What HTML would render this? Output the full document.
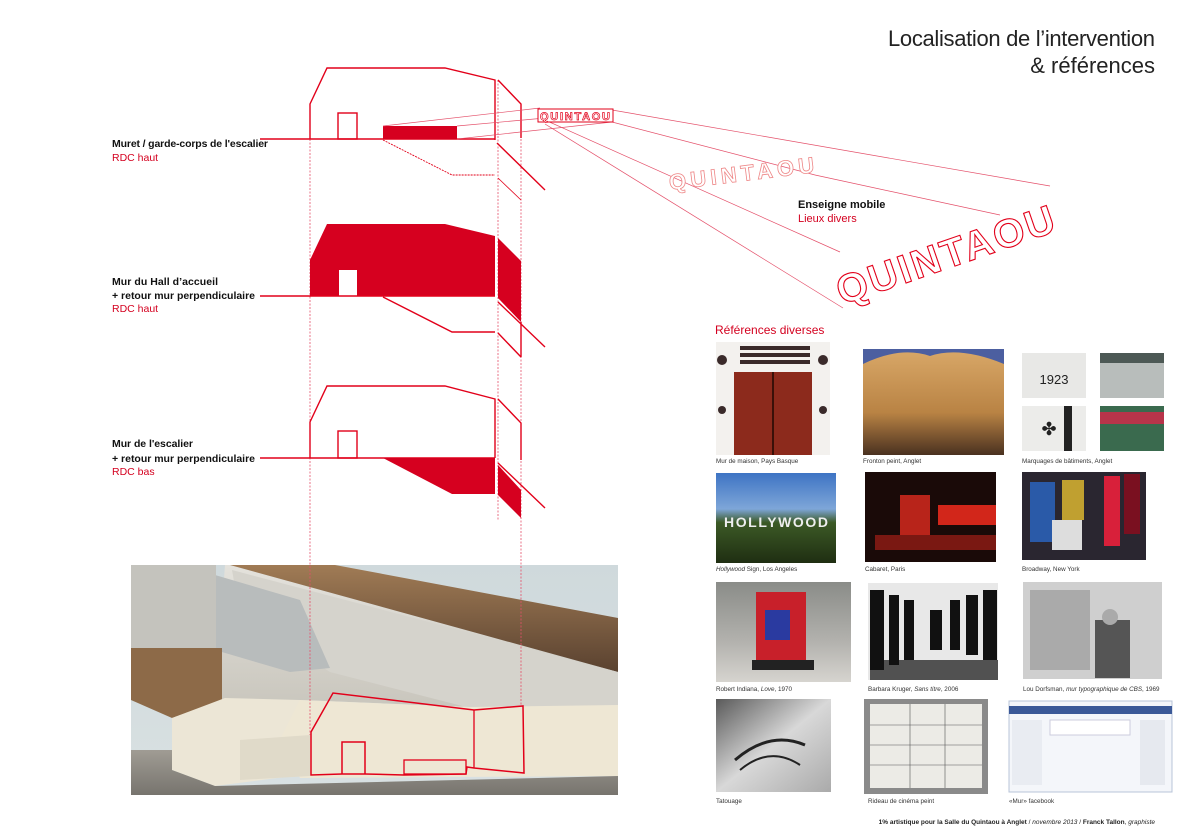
<!DOCTYPE html>
<html><head><meta charset="utf-8"><style>
html,body{margin:0;padding:0;background:#fff;}
svg{display:block;}
text{font-family:"Liberation Sans",sans-serif;}
</style></head><body>
<svg width="1200" height="840" viewBox="0 0 1200 840" xmlns="http://www.w3.org/2000/svg">
<defs>
<linearGradient id="sky" x1="0" y1="0" x2="0" y2="1"><stop offset="0" stop-color="#cfd9dc"/><stop offset="1" stop-color="#d9e1e2"/></linearGradient>
<linearGradient id="wood" x1="0" y1="0" x2="0" y2="1"><stop offset="0" stop-color="#a07b55"/><stop offset="1" stop-color="#5a4230"/></linearGradient>
<linearGradient id="floor" x1="0" y1="0" x2="0" y2="1"><stop offset="0" stop-color="#a09c94"/><stop offset="1" stop-color="#77746e"/></linearGradient>
<linearGradient id="slab" x1="0" y1="0" x2="0" y2="1"><stop offset="0" stop-color="#e4e2dc"/><stop offset="1" stop-color="#c9c6bd"/></linearGradient>
<linearGradient id="fronton" x1="0" y1="0" x2="0" y2="1"><stop offset="0" stop-color="#d9a868"/><stop offset="0.6" stop-color="#b98344"/><stop offset="1" stop-color="#4a3120"/></linearGradient>
<linearGradient id="holly" x1="0" y1="0" x2="0" y2="1"><stop offset="0" stop-color="#3e74c4"/><stop offset="0.4" stop-color="#7ea6d8"/><stop offset="0.55" stop-color="#3c5a26"/><stop offset="1" stop-color="#1f2e12"/></linearGradient>
<linearGradient id="love" x1="0" y1="0" x2="0" y2="1"><stop offset="0" stop-color="#8a8c88"/><stop offset="0.6" stop-color="#b3b2ae"/><stop offset="1" stop-color="#d6d4cf"/></linearGradient>
<linearGradient id="tat" x1="0" y1="0" x2="1" y2="1"><stop offset="0" stop-color="#5a5a5a"/><stop offset="0.5" stop-color="#d8d8d8"/><stop offset="1" stop-color="#aaa"/></linearGradient>
</defs>

<text x="1155" y="46" font-size="22" text-anchor="end" fill="#222" textLength="267">Localisation de l’intervention</text>
<text x="1155" y="73" font-size="22" text-anchor="end" fill="#222">&amp; références</text>

<g font-size="10.5">
<text x="112" y="147" font-weight="bold" fill="#111" textLength="156">Muret / garde-corps de l'escalier</text>
<text x="112" y="161" fill="#d4001f">RDC haut</text>
<text x="112" y="285" font-weight="bold" fill="#111" textLength="106">Mur du Hall d’accueil</text>
<text x="112" y="299" font-weight="bold" fill="#111" textLength="143">+ retour mur perpendiculaire</text>
<text x="112" y="312" fill="#d4001f">RDC haut</text>
<text x="112" y="447" font-weight="bold" fill="#111" textLength="81">Mur de l'escalier</text>
<text x="112" y="462" font-weight="bold" fill="#111" textLength="143">+ retour mur perpendiculaire</text>
<text x="112" y="475" fill="#d4001f">RDC bas</text>
</g>

<!-- Photo -->
<g>
<rect x="131" y="565" width="487" height="230" fill="url(#sky)"/>
<polygon points="225,565 230,565 618,672 618,705 470,707 300,700 215,700" fill="url(#slab)"/>
<polygon points="230,565 335,565 618,618 618,672" fill="url(#wood)"/>
<polygon points="232,570 618,672 618,705 470,708 330,672 240,615" fill="#d5d3cc"/>
<polygon points="215,575 300,600 330,668 290,672 215,650" fill="#b8bcbc"/>
<rect x="131" y="565" width="85" height="83" fill="#c4c3bd"/>
<polygon points="131,648 222,648 222,700 172,718 131,700" fill="#8d6a48"/>
<polygon points="172,718 225,698 300,700 330,740 300,775 215,786 172,770" fill="#ece6d6"/>
<polygon points="300,700 470,707 618,705 618,776 300,778 280,740" fill="#eee7d4"/>
<polygon points="240,740 310,735 310,776 240,780" fill="#e0dac9"/>
<polygon points="131,750 172,750 172,770 215,786 618,776 618,795 131,795" fill="url(#floor)"/>
<polygon points="311,732 333,693 474,710 523,706 524,773 474,768 467,767 466,774 404,775 365,774 342,774 311,775" fill="none" stroke="#e2001a" stroke-width="1.5"/>
<polyline points="342,774 342,742 365,742 365,774" fill="none" stroke="#e2001a" stroke-width="1.5"/>
<rect x="404" y="760" width="62" height="14" fill="none" stroke="#e2001a" stroke-width="1.3"/>
<line x1="474" y1="710" x2="474" y2="768" stroke="#e2001a" stroke-width="1.3"/>
</g>

<g stroke="#e4506a" stroke-width="0.8" stroke-dasharray="2,1.5" fill="none">
<line x1="310" y1="139" x2="310" y2="735"/>
<line x1="498" y1="80" x2="498" y2="520"/>
<line x1="521" y1="104" x2="521" y2="705"/>
</g>

<g stroke="#e2001a" stroke-width="1.4" fill="none">
<polyline points="310,139 310,104 327,68 445,68 495,80 495,140"/>
<polyline points="498,80 521,104 521,138"/>
<line x1="260" y1="139" x2="495" y2="139"/>
<rect x="338" y="113" width="19" height="26"/>
<polyline points="383,140 452,175 495,175" stroke-width="0.9" stroke-dasharray="2,1"/>
<line x1="497" y1="143" x2="545" y2="190"/>
<line x1="498" y1="178" x2="521" y2="200" stroke-width="0.8"/>
</g>
<rect x="383" y="126" width="74" height="13" fill="#d6001f"/>

<polygon points="310,296 310,260 327,224 445,224 495,236 495,296" fill="#d6001f"/>
<polygon points="498,238 521,261 521,322 498,298" fill="#d6001f"/>
<rect x="339" y="270" width="18" height="26" fill="#fff"/>
<g stroke="#e2001a" stroke-width="1.4" fill="none">
<line x1="260" y1="296" x2="495" y2="296"/>
<polyline points="383,297 452,332 495,332"/>
<line x1="498" y1="302" x2="545" y2="347"/>
<line x1="498" y1="333" x2="521" y2="357"/>
<line x1="521" y1="322" x2="521" y2="357"/>
</g>

<g stroke="#e2001a" stroke-width="1.4" fill="none">
<polyline points="310,458 310,422 327,386 445,386 495,399 495,458"/>
<polyline points="498,399 521,423 521,460"/>
<line x1="260" y1="458" x2="495" y2="458"/>
<rect x="338" y="431" width="19" height="27"/>
<line x1="498" y1="463" x2="545" y2="508"/>
</g>
<polygon points="383,458 495,458 495,494 452,494" fill="#d6001f"/>
<polygon points="498,465 521,490 521,518 498,495" fill="#d6001f"/>

<g stroke="#e4506a" stroke-width="0.7" fill="none">
<line x1="383" y1="126" x2="540" y2="108"/>
<line x1="457" y1="126" x2="612" y2="112"/>
<line x1="457" y1="139" x2="612" y2="122"/>
<line x1="612" y1="110" x2="1050" y2="186"/>
<line x1="612" y1="122" x2="815" y2="175"/>
<line x1="815" y1="175" x2="1000" y2="215"/>
<line x1="545" y1="120" x2="840" y2="252"/>
<line x1="545" y1="124" x2="843" y2="308"/>
</g>
<rect x="538" y="109" width="75" height="13" fill="#fff" stroke="#e2001a" stroke-width="1"/>
<text x="575" y="120" font-size="11" font-weight="bold" text-anchor="middle" fill="#fff" stroke="#e2001a" stroke-width="0.7" textLength="70">QUINTAOU</text>
<text x="670" y="190" font-size="22" font-weight="bold" fill="#fff" stroke="#e88" stroke-width="0.8" transform="rotate(-7 670 190)" textLength="146">QUINTAOU</text>
<text x="842" y="305" font-size="40" font-weight="bold" fill="#fff" stroke="#e2001a" stroke-width="1.1" transform="rotate(-19 842 305)" textLength="228" lengthAdjust="spacing">QUINTAOU</text>

<text x="798" y="208" font-size="11" font-weight="bold" fill="#111">Enseigne mobile</text>
<text x="798" y="222" font-size="11" fill="#d4001f">Lieux divers</text>

<text x="715" y="334" font-size="12" fill="#d4001f">Références diverses</text>

<rect x="716" y="342" width="114" height="113" fill="#f3f1ee"/>
<rect x="734" y="372" width="78" height="83" fill="#8c2a1c"/>
<line x1="773" y1="372" x2="773" y2="455" stroke="#3a1008" stroke-width="2"/>
<g fill="#3a2a2a"><rect x="740" y="346" width="70" height="4"/><rect x="740" y="353" width="70" height="4"/><rect x="740" y="360" width="70" height="4"/><circle cx="722" cy="360" r="5"/><circle cx="823" cy="360" r="5"/><circle cx="722" cy="410" r="4"/><circle cx="823" cy="410" r="4"/></g>
<rect x="863" y="349" width="141" height="106" fill="url(#fronton)"/>
<path d="M863,349 L863,364 Q900,346 930,356 Q960,346 1004,364 L1004,349Z" fill="#4c5fa0"/>
<rect x="1022" y="353" width="64" height="45" fill="#e8e8e6"/>
<text x="1054" y="384" font-size="13" text-anchor="middle" fill="#222">1923</text>
<rect x="1100" y="353" width="64" height="45" fill="#b8bdbb"/>
<rect x="1100" y="353" width="64" height="10" fill="#4d5955"/>
<rect x="1022" y="406" width="64" height="45" fill="#ececea"/>
<rect x="1064" y="406" width="8" height="45" fill="#222"/>
<text x="1049" y="435" font-size="18" text-anchor="middle" fill="#222">✤</text>
<rect x="1100" y="406" width="64" height="45" fill="#3a6a4e"/>
<rect x="1100" y="412" width="64" height="12" fill="#b8344a"/>
<g font-size="6.3" fill="#333">
<text x="716" y="463">Mur de maison, Pays Basque</text>
<text x="863" y="463">Fronton peint, Anglet</text>
<text x="1022" y="463">Marquages de bâtiments, Anglet</text>
</g>

<rect x="716" y="473" width="120" height="90" fill="url(#holly)"/>
<text x="776" y="527" font-size="14" font-weight="bold" text-anchor="middle" fill="#eee" textLength="104">HOLLYWOOD</text>
<rect x="865" y="472" width="131" height="90" fill="#1a0a08"/>
<rect x="900" y="495" width="30" height="40" fill="#b8241a"/>
<rect x="938" y="505" width="58" height="20" fill="#d2261a"/>
<rect x="875" y="535" width="121" height="15" fill="#7a1812"/>
<rect x="1022" y="472" width="124" height="88" fill="#2a2630"/>
<rect x="1030" y="482" width="25" height="60" fill="#2a5aa8"/>
<rect x="1062" y="480" width="22" height="40" fill="#c0a030"/>
<rect x="1104" y="476" width="16" height="70" fill="#d8203a"/>
<rect x="1124" y="474" width="16" height="60" fill="#7a1020"/>
<rect x="1052" y="520" width="30" height="30" fill="#ddd"/>
<g font-size="6.3" fill="#333">
<text x="716" y="571"><tspan font-style="italic">Hollywood</tspan> Sign, Los Angeles</text>
<text x="865" y="571">Cabaret, Paris</text>
<text x="1022" y="571">Broadway, New York</text>
</g>

<rect x="716" y="582" width="135" height="100" fill="url(#love)"/>
<rect x="756" y="592" width="50" height="70" fill="#c8202a"/>
<rect x="765" y="610" width="25" height="30" fill="#2a3aa0"/>
<rect x="752" y="660" width="62" height="10" fill="#222"/>
<rect x="868" y="583" width="130" height="97" fill="#e8e8e8"/>
<g fill="#111"><rect x="870" y="590" width="14" height="80"/><rect x="889" y="595" width="10" height="70"/><rect x="904" y="600" width="10" height="60"/><rect x="930" y="610" width="12" height="40"/><rect x="950" y="600" width="10" height="50"/><rect x="966" y="595" width="12" height="60"/><rect x="983" y="590" width="14" height="70"/><rect x="870" y="660" width="128" height="20" opacity="0.7"/></g>
<rect x="1023" y="582" width="139" height="97" fill="#cfcfcf"/>
<rect x="1030" y="590" width="60" height="80" fill="#9a9a9a" opacity="0.7"/>
<rect x="1095" y="620" width="35" height="58" fill="#555"/>
<circle cx="1110" cy="617" r="8" fill="#aaa"/>
<g font-size="6.3" fill="#333">
<text x="716" y="691">Robert Indiana, <tspan font-style="italic">Love</tspan>, 1970</text>
<text x="868" y="691">Barbara Kruger, <tspan font-style="italic">Sans titre</tspan>, 2006</text>
<text x="1023" y="691">Lou Dorfsman, <tspan font-style="italic">mur typographique de CBS</tspan>, 1969</text>
</g>

<rect x="716" y="699" width="115" height="93" fill="url(#tat)"/>
<path d="M735,760 Q770,730 805,745" stroke="#222" stroke-width="3" fill="none"/>
<path d="M740,770 Q770,745 800,765" stroke="#222" stroke-width="2" fill="none"/>
<rect x="864" y="699" width="124" height="95" fill="#8a8a8a"/>
<rect x="870" y="704" width="112" height="84" fill="#ecebe6"/>
<g stroke="#555" stroke-width="0.6"><line x1="870" y1="725" x2="982" y2="725"/><line x1="870" y1="745" x2="982" y2="745"/><line x1="870" y1="765" x2="982" y2="765"/><line x1="910" y1="704" x2="910" y2="788"/><line x1="945" y1="704" x2="945" y2="788"/></g>
<rect x="1009" y="701" width="163" height="91" fill="#f4f6fa" stroke="#b8c4d8" stroke-width="1"/>
<rect x="1009" y="706" width="163" height="8" fill="#3b5998"/>
<rect x="1050" y="720" width="80" height="15" fill="#fff" stroke="#ccd"/>
<rect x="1140" y="720" width="25" height="65" fill="#e6e9ef"/>
<rect x="1012" y="720" width="30" height="65" fill="#e9ecf2"/>
<g font-size="6.3" fill="#333">
<text x="716" y="803">Tatouage</text>
<text x="868" y="803">Rideau de cinéma peint</text>
<text x="1009" y="803">«Mur» facebook</text>
</g>

<text x="1155" y="824" font-size="6.5" text-anchor="end" fill="#222"><tspan font-weight="bold">1% artistique pour la Salle du Quintaou à Anglet</tspan> / <tspan font-style="italic">novembre 2013</tspan> / <tspan font-weight="bold">Franck Tallon</tspan>, <tspan font-style="italic">graphiste</tspan></text>
</svg>
</body></html>
